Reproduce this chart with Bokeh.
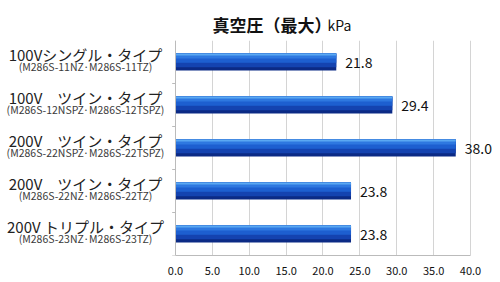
from bokeh.plotting import figure
from bokeh.layouts import column, row
from bokeh.models import (FactorRange, Range1d, FixedTicker, ColumnDataSource,
                          NumeralTickFormatter, Span)
from bokeh.core.properties import value
from bokeh.transform import dodge
from bokeh.embed import file_html
from bokeh.resources import INLINE

# ---- data ----
type_names = ["100Vシングル・タイプ", "100V　ツイン・タイプ", "200V　ツイン・タイプ",
              "200V　ツイン・タイプ", "200V トリプル・タイプ"]
model_codes = ["(M286S-11NZ·M286S-11TZ)", "(M286S-12NSPZ·M286S-12TSPZ)",
               "(M286S-22NSPZ·M286S-22TSPZ)", "(M286S-22NZ·M286S-22TZ)",
               "(M286S-23NZ·M286S-23TZ)"]
vacuum_kpa = [21.8, 29.4, 38.0, 23.8, 23.8]
x_ticks = [0, 5, 10, 15, 20, 25, 30, 35, 40]
title_main = "真空圧（最大）"
title_unit = "kPa"

src = ColumnDataSource(dict(cat=model_codes, name=type_names, code=model_codes,
                            val=vacuum_kpa, zero=[0] * len(vacuum_kpa),
                            vlab=["%.1f" % v for v in vacuum_kpa]))

FONT = "Noto Sans CJK JP"
yr = FactorRange(factors=list(reversed(model_codes)), range_padding=0)


def blank(fig):
    fig.outline_line_color = None
    fig.background_fill_color = "white"
    fig.border_fill_color = "white"
    fig.grid.grid_line_color = None


# ---- title strip ----
pt = figure(width=500, height=40, output_backend="svg", toolbar_location=None, title=None,
            x_range=Range1d(0, 500), y_range=Range1d(40, 0),
            x_axis_location=None, y_axis_location=None,
            min_border=0, min_border_left=0, min_border_right=0,
            min_border_top=0, min_border_bottom=0)
blank(pt)
pt.text(x=[212], y=[24], text=[title_main], text_font=value(FONT), text_font_style="bold",
        text_font_size="17px", text_color="#111111", text_baseline="alphabetic")
pt.text(x=[327], y=[24], text=[title_unit], text_font=value(FONT),
        text_font_size="14px", text_color="#111111", text_baseline="alphabetic")

# ---- category labels ----
pl = figure(width=165, height=242, output_backend="svg", toolbar_location=None, title=None,
            x_range=Range1d(0, 165), y_range=yr,
            x_axis_location=None, y_axis_location=None,
            min_border_left=0, min_border_right=0, min_border_top=0, min_border_bottom=27)
blank(pl)
pl.text(x=85, y=dodge("cat", 0.17, range=yr), text="name", source=src,
        text_font=value(FONT), text_font_size="15px", text_color="#222222",
        text_align="center", text_baseline="middle")
pl.text(x=85, y=dodge("cat", -0.115, range=yr), text="code", source=src,
        text_font=value(FONT), text_font_size="10.5px", text_color="#3a3a3a",
        text_align="center", text_baseline="middle")

# ---- main bar chart ----
p = figure(width=335, height=242, output_backend="svg", toolbar_location=None, title=None,
           y_range=yr, x_range=Range1d(-1.356, 44.07),
           min_border_left=0, min_border_right=0, min_border_top=0, min_border_bottom=27)
blank(p)
p.xgrid.ticker = FixedTicker(ticks=x_ticks)
p.xgrid.grid_line_color = "#d4d4d4"

xa = p.xaxis[0]
xa.ticker = FixedTicker(ticks=x_ticks)
xa.bounds = (0, 40)
xa.formatter = NumeralTickFormatter(format="0.0")
xa.axis_line_color = "#bbbbbb"
xa.major_tick_line_color = None
xa.minor_tick_line_color = None
xa.major_label_text_font = FONT
xa.major_label_text_font_size = "11px"
xa.major_label_text_color = "#111111"
xa.major_label_standoff = 5
p.yaxis.visible = False

# left axis line and boundary ticks
p.add_layout(Span(location=0, dimension="height", line_color="#bbbbbb", line_width=1))
p.segment(x0=-0.45, x1="zero", y0=dodge("cat", -0.5, range=yr), y1=dodge("cat", -0.5, range=yr),
          source=src, line_color="#bbbbbb", line_width=1)

# bars with layered gradient
layers = [(0.0, 0.40, "#0b2a85"), (0.04, 0.32, "#1443b0"), (0.09, 0.22, "#1d5fd0"),
          (0.14, 0.12, "#2e78e0"), (0.175, 0.05, "#5aa8f2")]
for off, h, col in layers:
    p.hbar(y=dodge("cat", off, range=yr), right="val", left=0, height=h,
           source=src, fill_color=col, line_color=None)

# value labels
p.text(x="val", y="cat", text="vlab", source=src, x_offset=9,
       text_baseline="middle", text_align="left", text_font=value(FONT),
       text_font_size="14px", text_color="#111111")

layout = column(pt, row(pl, p, spacing=0), spacing=0)
open("out.html", "w").write(file_html(layout, INLINE))
